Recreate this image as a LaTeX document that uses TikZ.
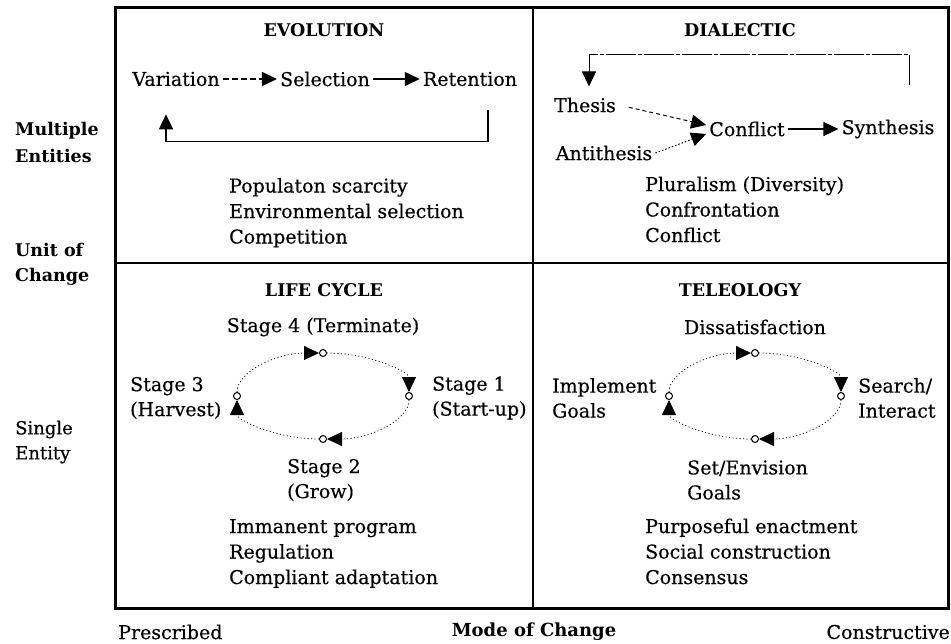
\documentclass[tikz,border=0pt]{standalone}
\usepackage{fontspec}
\setmainfont{DejaVu Serif}[UprightFeatures={FakeBold=0.4}]
\usetikzlibrary{arrows.meta}
\tikzset{
  txt/.style={font=\fontsize{19}{25}\selectfont, inner sep=0pt},
  ttl/.style={font=\fontsize{17.5}{20}\selectfont\bfseries, inner sep=0pt},
  item/.style={txt, anchor=base west},
  two/.style={txt, align=left, anchor=west},
  flow/.style={txt, inner sep=3pt},
  stop/.style={circle, draw, line width=1pt, fill=white, inner sep=0pt, minimum size=7pt},
  cyc/.style={->, line width=0.8pt, dash pattern=on 1pt off 2.5pt},
}

\begin{document}
\begin{tikzpicture}[x=1pt, y=-1pt, >={Triangle[length=15pt,width=14pt]}]
\useasboundingbox (0,0) rectangle (951,643);

% Frame
\draw[line width=3pt] (115,7) rectangle (948,608);
\draw[line width=2pt] (533,7) -- (533,608);
\draw[line width=2pt] (115,263) -- (948,263);

% Axis labels
\node[two, font=\fontsize{17.5}{27}\selectfont\bfseries] (multi) at (15,142) {Multiple\\Entities};
\node[two, font=\fontsize{17.5}{25}\selectfont\bfseries] (unit) at (15,264) {Unit of\\Change};
\node[two, font=\fontsize{18}{25}\selectfont] (single) at (15,442) {Single\\Entity};
\node[txt, anchor=west] (pres) at (118,632) {Prescribed};
\node[txt, font=\fontsize{18}{25}\selectfont\bfseries] (mode) at (534,632) {Mode of Change};
\node[txt, anchor=east] (cons) at (950,632) {Constructive};

% Evolution
\node[ttl] (evo) at (324,30) {EVOLUTION};
\node[flow] (var) at (176,79) {Variation};
\node[flow] (sel) at (325,79) {Selection};
\node[flow] (ret) at (470,79) {Retention};
\draw[->, line width=1.3pt, dash pattern=on 6pt off 3pt] (var) -- (sel);
\draw[->, line width=1.3pt] (sel) -- (ret);
\draw[->, line width=1.6pt, shorten <=21pt, shorten >=25pt] ([xshift=18pt]ret.south) -- ++(0,52) -| ([xshift=-10pt]var.south);
\foreach \t [count=\i] in {Populaton scarcity, Environmental selection, Competition}
  \node[item] (evo\i) at (229, 167+25.5*\i) {\t};

% Dialectic
\node[ttl] (dia) at (740,30) {DIALECTIC};
\node[flow] (thes) at (585,105) {Thesis};
\node[flow] (anti) at (604,153) {Antithesis};
\node[flow] (conf) at (747,129) {Conflict};
\node[flow] (syn) at (888,129) {Synthesis};
\draw[->, line width=1pt, dash pattern=on 4pt off 3pt, shorten <=10pt] (thes.east) -- ([yshift=4pt]conf.west);
\draw[->, line width=1pt, dash pattern=on 1.5pt off 2pt] (anti.east) -- ([yshift=-5pt]conf.west);
\draw[->, line width=1.3pt] (conf) -- (syn);
\draw[->, line width=1pt, dash pattern=on 30pt off 2pt on 4pt off 2pt, shorten >=8pt] ([xshift=21pt,yshift=31pt]syn.north) -- ++(0,-31) -| ([xshift=4pt]thes.north);
\foreach \t [count=\i] in {Pluralism (Diversity), Confrontation, Conflict}
  \node[item] (dia\i) at (645, 165.5+25.5*\i) {\t};

% Life cycle
\node[ttl] (life) at (324,290) {LIFE CYCLE};
\node[txt] (s4) at (323,327) {Stage 4 (Terminate)};
\node[two] (s3) at (130,398) {Stage 3\\(Harvest)};
\node[two] (s1) at (432,398) {Stage 1\\(Start-up)};
\node[two] (s2) at (287,480) {Stage 2\\(Grow)};
\foreach \t [count=\i] in {Immanent program, Regulation, Compliant adaptation}
  \node[item] (life\i) at (229, 507.5+25.5*\i) {\t};

% Teleology
\node[ttl] (tele) at (740,290) {TELEOLOGY};
\node[txt] (dis) at (755,327) {Dissatisfaction};
\node[two] (impl) at (552,398) {Implement\\Goals};
\node[two] (srch) at (858,398) {Search/\\Interact};
\node[two] (env) at (687,480) {Set/Envision\\Goals};
\foreach \t [count=\i] in {Purposeful enactment, Social construction, Consensus}
  \node[item] (tele\i) at (645, 507.5+25.5*\i) {\t};

% Cycles
\foreach \cx/\nm in {323/lc, 755/tl} {
  \begin{scope}[shift={(\cx,396)}]
    \foreach \n/\a in {1/0, 2/90, 3/180, 4/270}
      \node[stop] (\nm\n) at (\a:86 and 43) {};
  \end{scope}
  \draw[cyc] (\nm4) .. controls +(47,0) and +(0,-24) .. (\nm1);
  \draw[cyc] (\nm1) .. controls +(0,24) and +(47,0) .. (\nm2);
  \draw[cyc] (\nm2) .. controls +(-47,0) and +(0,24) .. (\nm3);
  \draw[cyc] (\nm3) .. controls +(0,-24) and +(-47,0) .. (\nm4);
}
\end{tikzpicture}
\end{document}
